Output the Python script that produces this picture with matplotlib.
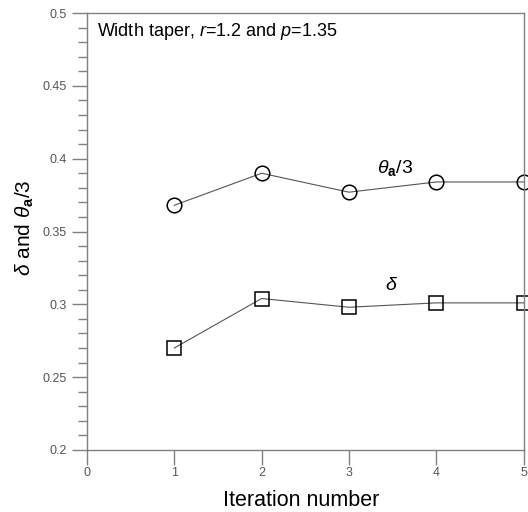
import matplotlib
matplotlib.use("Agg")
import matplotlib.pyplot as plt
from matplotlib.ticker import MultipleLocator

iterations = [1, 2, 3, 4, 5]
theta_a_over_3 = [0.368, 0.390, 0.377, 0.384, 0.384]
delta = [0.270, 0.304, 0.298, 0.301, 0.301]
x_ticks = [0, 1, 2, 3, 4, 5]
y_ticks = [0.2, 0.25, 0.3, 0.35, 0.4, 0.45, 0.5]
y_tick_labels = ["0.2", "0.25", "0.3", "0.35", "0.4", "0.45", "0.5"]

plt.rcParams['font.family'] = ['Liberation Sans', 'DejaVu Sans']
plt.rcParams['mathtext.fontset'] = 'custom'
plt.rcParams['mathtext.rm'] = 'Liberation Sans'
plt.rcParams['mathtext.it'] = 'Liberation Sans:italic'
plt.rcParams['mathtext.bf'] = 'Liberation Sans:bold'

fig = plt.figure(figsize=(5.28, 5.12), dpi=100)
ax = fig.add_axes([87/528, 1-450/512, (523.5-87)/528, (450-13)/512])

gray = '#808080'
line_kw = dict(color='#555555', lw=0.8, markersize=10.5, markerfacecolor='none',
               markeredgecolor='black', markeredgewidth=1.1, clip_on=False)
ax.plot(iterations, theta_a_over_3, marker='o', **line_kw)
ax.plot(iterations, delta, marker='s', **line_kw)

ax.set_xlim(0, 5)
ax.set_ylim(0.2, 0.5)
ax.set_xticks(x_ticks)
ax.set_yticks(y_ticks)
ax.set_yticklabels(y_tick_labels)
ax.yaxis.set_minor_locator(MultipleLocator(0.01))

for s in ax.spines.values():
    s.set_color(gray)
    s.set_linewidth(1.0)
ax.tick_params(axis='both', which='major', direction='out', length=10.8, width=1.0,
               color=gray, labelcolor='#555555', labelsize=9)
ax.tick_params(axis='y', which='major', pad=3.6)
ax.tick_params(axis='x', which='major', pad=1.5)
ax.tick_params(axis='y', which='minor', direction='out', length=6.5, width=1.0, color=gray)

ax.set_xlabel('Iteration number', fontsize=15.5)
ax.xaxis.set_label_coords((301-87)/436.5, -(490-450)/437)
ax.xaxis.label.set_va('top')

fig.text(25/528, 1-228/512, r'$\delta$ and $\theta_{\mathbf{a}}$/3', fontsize=15,
         rotation=90, ha='center', va='center')

ax.text(0.115, 0.487, r'Width taper, $r$=1.2 and $p$=1.35', fontsize=13, va='center', ha='left')
ax.text(3.53, 0.3936, r'$\theta_{\mathbf{a}}$/3', fontsize=14, va='center', ha='center')
ax.text(3.49, 0.3126, r'$\delta$', fontsize=14, va='center', ha='center')

fig.savefig('out.png', dpi=100)
